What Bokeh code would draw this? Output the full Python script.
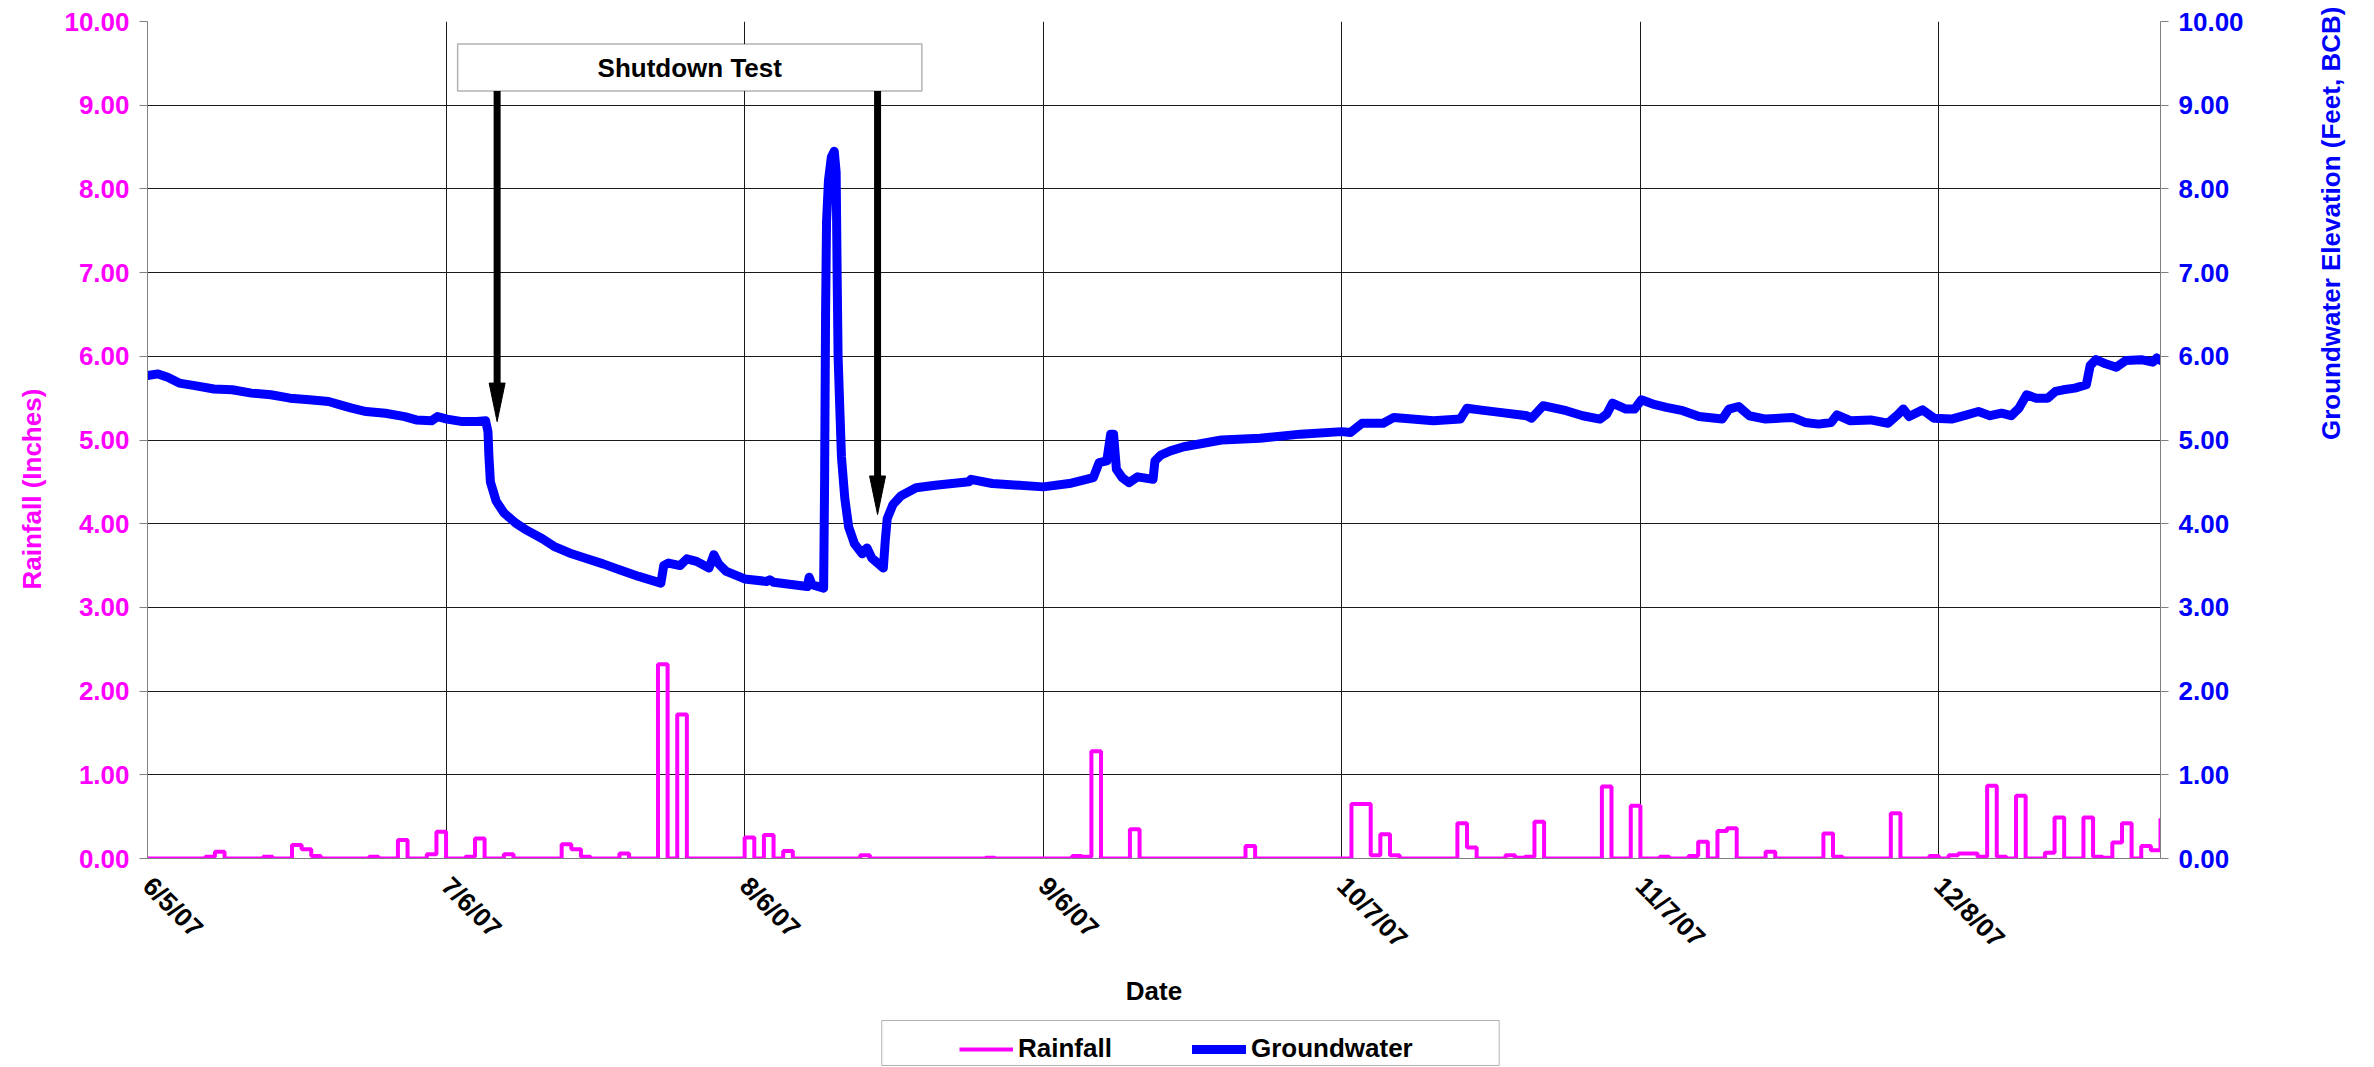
import math
from datetime import date

from bokeh.plotting import figure
from bokeh.layouts import column
from bokeh.models import (Range1d, LinearAxis, FixedTicker, PrintfTickFormatter,
                          Legend, LegendItem, BoxAnnotation, Label, Title)
from bokeh.embed import file_html
from bokeh.resources import INLINE

# ---------------- data ----------------
START = date(2007, 6, 5)
END = date(2007, 12, 31)

tick_labels = ["6/5/07", "7/6/07", "8/6/07", "9/6/07", "10/7/07", "11/7/07", "12/8/07"]

# daily rainfall (inches); days not listed read as 0.00
rain_day = [6, 7, 12, 15, 16, 17, 23, 26, 29, 30, 33, 34, 37, 43, 44, 45, 49, 53, 55,
            62, 64, 66, 74, 87, 96, 97, 98, 102, 114, 125, 126, 127, 128, 129, 136, 137,
            141, 142, 143, 144, 151, 154, 157, 160, 161, 163, 164, 168, 174, 175, 181,
            185, 187, 188, 189, 190, 191, 192, 194, 197, 198, 201, 202, 203, 204, 205,
            207, 208, 209]
rain_inches = [0.02, 0.08, 0.02, 0.16, 0.11, 0.03, 0.02, 0.22, 0.05, 0.32, 0.02, 0.24, 0.05,
               0.17, 0.11, 0.02, 0.06, 2.32, 1.72, 0.25, 0.28, 0.09, 0.04, 0.01, 0.03, 0.02,
               1.28, 0.35, 0.15, 0.65, 0.65, 0.04, 0.29, 0.04, 0.42, 0.13, 0.04, 0.01, 0.02,
               0.44, 0.86, 0.63, 0.02, 0.03, 0.20, 0.33, 0.36, 0.08, 0.30, 0.02, 0.54, 0.03,
               0.04, 0.06, 0.06, 0.02, 0.87, 0.02, 0.75, 0.07, 0.49, 0.49, 0.02, 0.01, 0.19,
               0.42, 0.15, 0.10, 0.48]

# groundwater elevation (feet, BCB); x = days after 6/5/07
gw_day = [0.0, 1.1, 2.1, 3.3, 4.9, 6.9, 8.8, 10.8, 12.8, 14.8, 16.8, 18.8, 20.0, 21.2, 22.7,
          24.7, 26.7, 27.9, 29.5, 30.1, 31.1, 32.7, 34.2, 35.1, 35.35, 35.45, 35.6, 36.2,
          37.0, 38.2, 39.4, 41.0, 42.2, 43.8, 45.4, 47.3, 49.0, 51.0, 53.3, 53.6, 54.1, 55.3,
          56.0, 57.0, 58.3, 58.8, 59.3, 60.1, 62.0, 64.3, 64.6, 65.0, 68.5, 68.7, 69.0, 70.2,
          70.3, 70.4, 70.5, 70.7, 71.0, 71.3, 71.5, 71.6, 71.7, 71.9, 72.05, 72.4, 72.8, 73.4,
          74.2, 74.7, 75.2, 76.4, 76.6, 76.8, 77.4, 78.2, 79.8, 81.8, 85.3, 85.5, 87.7, 93.0,
          95.7, 98.2, 98.8, 99.6, 100.0, 100.3, 100.6, 101.2, 101.9, 102.8, 104.4, 104.6,
          105.2, 106.2, 107.6, 111.5, 115.5, 119.7, 124.0, 124.9, 126.1, 128.3, 129.4, 133.5,
          136.3, 137.0, 138.3, 140.4, 143.2, 143.7, 144.9, 147.3, 149.0, 150.8, 151.5, 152.1,
          153.5, 154.4, 155.1, 156.3, 157.7, 159.4, 161.1, 163.5, 164.2, 165.2, 166.3, 168.0,
          170.8, 172.1, 173.5, 174.8, 175.4, 176.8, 178.9, 180.7, 181.7, 182.3, 182.9, 184.3,
          185.5, 187.3, 188.9, 190.1, 191.3, 192.5, 193.5, 194.3, 195.1, 196.1, 197.3, 198.1,
          198.9, 200.1, 201.3, 201.7, 202.3, 203.3, 204.4, 205.4, 207.0, 208.2, 208.6, 209.0]
gw_feet = [5.77, 5.79, 5.75, 5.68, 5.65, 5.61, 5.60, 5.56, 5.54, 5.50, 5.48, 5.46, 5.42, 5.38,
           5.34, 5.32, 5.28, 5.24, 5.23, 5.28, 5.25, 5.22, 5.22, 5.23, 5.10, 4.80, 4.50, 4.27,
           4.13, 4.01, 3.92, 3.82, 3.73, 3.65, 3.59, 3.52, 3.45, 3.37, 3.29, 3.50, 3.53, 3.50,
           3.58, 3.55, 3.47, 3.63, 3.52, 3.43, 3.34, 3.31, 3.33, 3.30, 3.25, 3.36, 3.27, 3.23,
           4.50, 6.50, 7.60, 8.10, 8.38, 8.45, 8.20, 7.00, 6.00, 5.30, 4.80, 4.30, 3.96, 3.76,
           3.64, 3.71, 3.59, 3.47, 3.80, 4.06, 4.23, 4.33, 4.43, 4.46, 4.50, 4.53, 4.48, 4.44,
           4.48, 4.55, 4.73, 4.75, 5.07, 5.07, 4.65, 4.55, 4.49, 4.56, 4.53, 4.75, 4.82, 4.87,
           4.92, 5.00, 5.02, 5.07, 5.10, 5.09, 5.20, 5.20, 5.27, 5.23, 5.25, 5.38, 5.36, 5.33,
           5.29, 5.26, 5.41, 5.35, 5.29, 5.25, 5.31, 5.44, 5.37, 5.37, 5.48, 5.43, 5.39, 5.35,
           5.28, 5.25, 5.37, 5.40, 5.29, 5.25, 5.27, 5.21, 5.19, 5.21, 5.30, 5.23, 5.24, 5.20,
           5.30, 5.37, 5.28, 5.36, 5.26, 5.25, 5.30, 5.34, 5.29, 5.32, 5.29, 5.38, 5.54, 5.50,
           5.50, 5.58, 5.60, 5.62, 5.66, 5.89, 5.96, 5.91, 5.87, 5.95, 5.96, 5.93, 5.98, 5.95]

# annotation ("Shutdown Test" box and its two arrows), in chart units
note_text = "Shutdown Test"
note_box = dict(left=32.2, right=80.4, bottom=9.17, top=9.73)
arrow_day = [36.3, 75.8]
arrow_tip = [5.22, 4.11]

# ---------------- derived ----------------
def label_to_day(lbl):
    m, d, y = (int(v) for v in lbl.split("/"))
    return (date(2000 + y, m, d) - START).days

tick_days = [label_to_day(t) for t in tick_labels]
n_days = (END - START).days
rain_map = dict(zip(rain_day, rain_inches))
rain_x = list(range(0, n_days + 1))
rain_y = [rain_map.get(d, 0.0) for d in rain_x]

FONT = "Liberation Sans"
FS = "26px"
MAGENTA = "#FF00FF"
BLUE = "#0000FF"
GRAY = "#808080"
W = 2374
H_MAIN = 1012
H_LEG = 55
FRAME_L, FRAME_R = 145, 2160

p = figure(width=W, height=H_MAIN, output_backend="svg", toolbar_location=None,
           x_range=Range1d(0, n_days), y_range=Range1d(0, 10),
           min_border_left=FRAME_L, min_border_right=W - FRAME_R, min_border_top=21,
           min_border_bottom=H_MAIN - 858,
           outline_line_color=None, background_fill_color="white", border_fill_color="white")
p.extra_y_ranges = {"gw": Range1d(0, 10)}

# grids
p.xgrid.ticker = FixedTicker(ticks=tick_days)
p.ygrid.ticker = FixedTicker(ticks=list(range(11)))
for g in (p.xgrid[0], p.ygrid[0]):
    g.grid_line_color = "#1a1a1a"
    g.grid_line_width = 1

# x axis
xa = p.xaxis[0]
xa.ticker = FixedTicker(ticks=tick_days)
xa.major_label_overrides = {d: t for d, t in zip(tick_days, tick_labels)}
xa.major_label_orientation = -math.pi / 4
xa.major_tick_out = 0
xa.major_tick_in = 0
xa.minor_tick_out = 0
xa.minor_tick_in = 0
xa.axis_line_color = GRAY
xa.major_label_standoff = 23
xa.major_label_text_font = FONT
xa.major_label_text_font_style = "bold"
xa.major_label_text_font_size = FS
xa.major_label_text_color = "black"
xa.axis_label = "Date"
xa.axis_label_text_font = FONT
xa.axis_label_text_font_style = "bold"
xa.axis_label_text_font_size = FS
xa.axis_label_text_color = "black"
xa.axis_label_standoff = 9

def style_y(ax, color):
    ax.ticker = FixedTicker(ticks=list(range(11)))
    ax.formatter = PrintfTickFormatter(format="%.2f")
    ax.major_tick_out = 8
    ax.major_tick_in = 0
    ax.minor_tick_out = 0
    ax.minor_tick_in = 0
    ax.axis_line_color = GRAY
    ax.major_tick_line_color = GRAY
    ax.major_label_standoff = 10
    ax.major_label_text_font = FONT
    ax.major_label_text_font_style = "bold"
    ax.major_label_text_font_size = FS
    ax.major_label_text_color = color

style_y(p.yaxis[0], MAGENTA)
ra = LinearAxis(y_range_name="gw")
style_y(ra, BLUE)
p.add_layout(ra, "right")

# left title: reads bottom-to-top, starting 269 px above the frame bottom
p.add_layout(Title(text="Rainfall (Inches)", align="left", offset=269, standoff=29,
                   text_font=FONT, text_font_style="bold", text_font_size=FS,
                   text_color=MAGENTA), "left")

# right title: an axis that only carries the title (no line, ticks or labels)
rt = LinearAxis(y_range_name="gw", ticker=FixedTicker(ticks=[]),
                axis_line_color=None, major_tick_line_color=None,
                minor_tick_line_color=None, major_label_text_font_size="0px")
rt.axis_label = "Groundwater Elevation (Feet, BCB)"
rt.axis_label_text_font = FONT
rt.axis_label_text_font_style = "bold"
rt.axis_label_text_font_size = FS
rt.axis_label_text_color = BLUE
rt.axis_label_standoff = 84
try:
    rt.axis_label_orientation = math.pi / 2
except Exception:
    pass
p.add_layout(rt, "right")

# series
r_rain = p.step(x=rain_x, y=rain_y, mode="after", line_color=MAGENTA, line_width=4)
r_gw = p.line(x=gw_day, y=gw_feet, y_range_name="gw", line_color=BLUE, line_width=9,
              line_join="round", line_cap="round")

# annotation: box, text and arrows
HEAD_LEN = 0.46
HEAD_HALF = 0.83
p.segment(x0=arrow_day, y0=[note_box["bottom"]] * 2, x1=arrow_day,
          y1=[t + HEAD_LEN for t in arrow_tip], line_color="black", line_width=7)
p.patches(xs=[[x - HEAD_HALF, x + HEAD_HALF, x] for x in arrow_day],
          ys=[[t + HEAD_LEN, t + HEAD_LEN, t] for t in arrow_tip],
          fill_color="black", line_color="black", line_width=1)
p.add_layout(BoxAnnotation(left=note_box["left"], right=note_box["right"],
                           bottom=note_box["bottom"], top=note_box["top"],
                           fill_color="white", fill_alpha=1.0,
                           line_color="black", line_width=1.5))
p.add_layout(Label(x=(note_box["left"] + note_box["right"]) / 2,
                   y=(note_box["bottom"] + note_box["top"]) / 2,
                   text=note_text, text_align="center", text_baseline="middle",
                   text_font=FONT, text_font_style="bold", text_font_size=FS,
                   text_color="black"))

# legend strip below the chart (its ranges are in page pixels of the strip)
lf = figure(width=W, height=H_LEG, output_backend="svg", toolbar_location=None,
            x_axis_type=None, y_axis_type=None,
            x_range=Range1d(FRAME_L, FRAME_R), y_range=Range1d(0, H_LEG),
            min_border_left=FRAME_L, min_border_right=W - FRAME_R,
            min_border_top=0, min_border_bottom=0,
            outline_line_color=None,
            background_fill_color="white", border_fill_color="white")
nan = float("nan")
lg_rain = lf.line(x=[nan], y=[nan], line_color=MAGENTA, line_width=4)
lg_gw = lf.line(x=[nan], y=[nan], line_color=BLUE, line_width=9, line_cap="round")
lf.add_layout(BoxAnnotation(left=880, right=1498, bottom=2, top=47,
                            fill_alpha=0.0, line_color="black", line_width=1))
legend = Legend(items=[LegendItem(label="Rainfall", renderers=[lg_rain]),
                       LegendItem(label="Groundwater", renderers=[lg_gw])],
                orientation="horizontal", location=(957 - FRAME_L, 3),
                border_line_color=None, background_fill_alpha=0.0,
                padding=7, spacing=80, margin=0,
                glyph_width=54, glyph_height=28, label_standoff=5,
                label_text_font=FONT, label_text_font_style="bold",
                label_text_font_size=FS, label_text_color="black")
lf.add_layout(legend, "center")

page = column(p, lf, spacing=0)
open("out.html", "w").write(file_html(page, INLINE))
